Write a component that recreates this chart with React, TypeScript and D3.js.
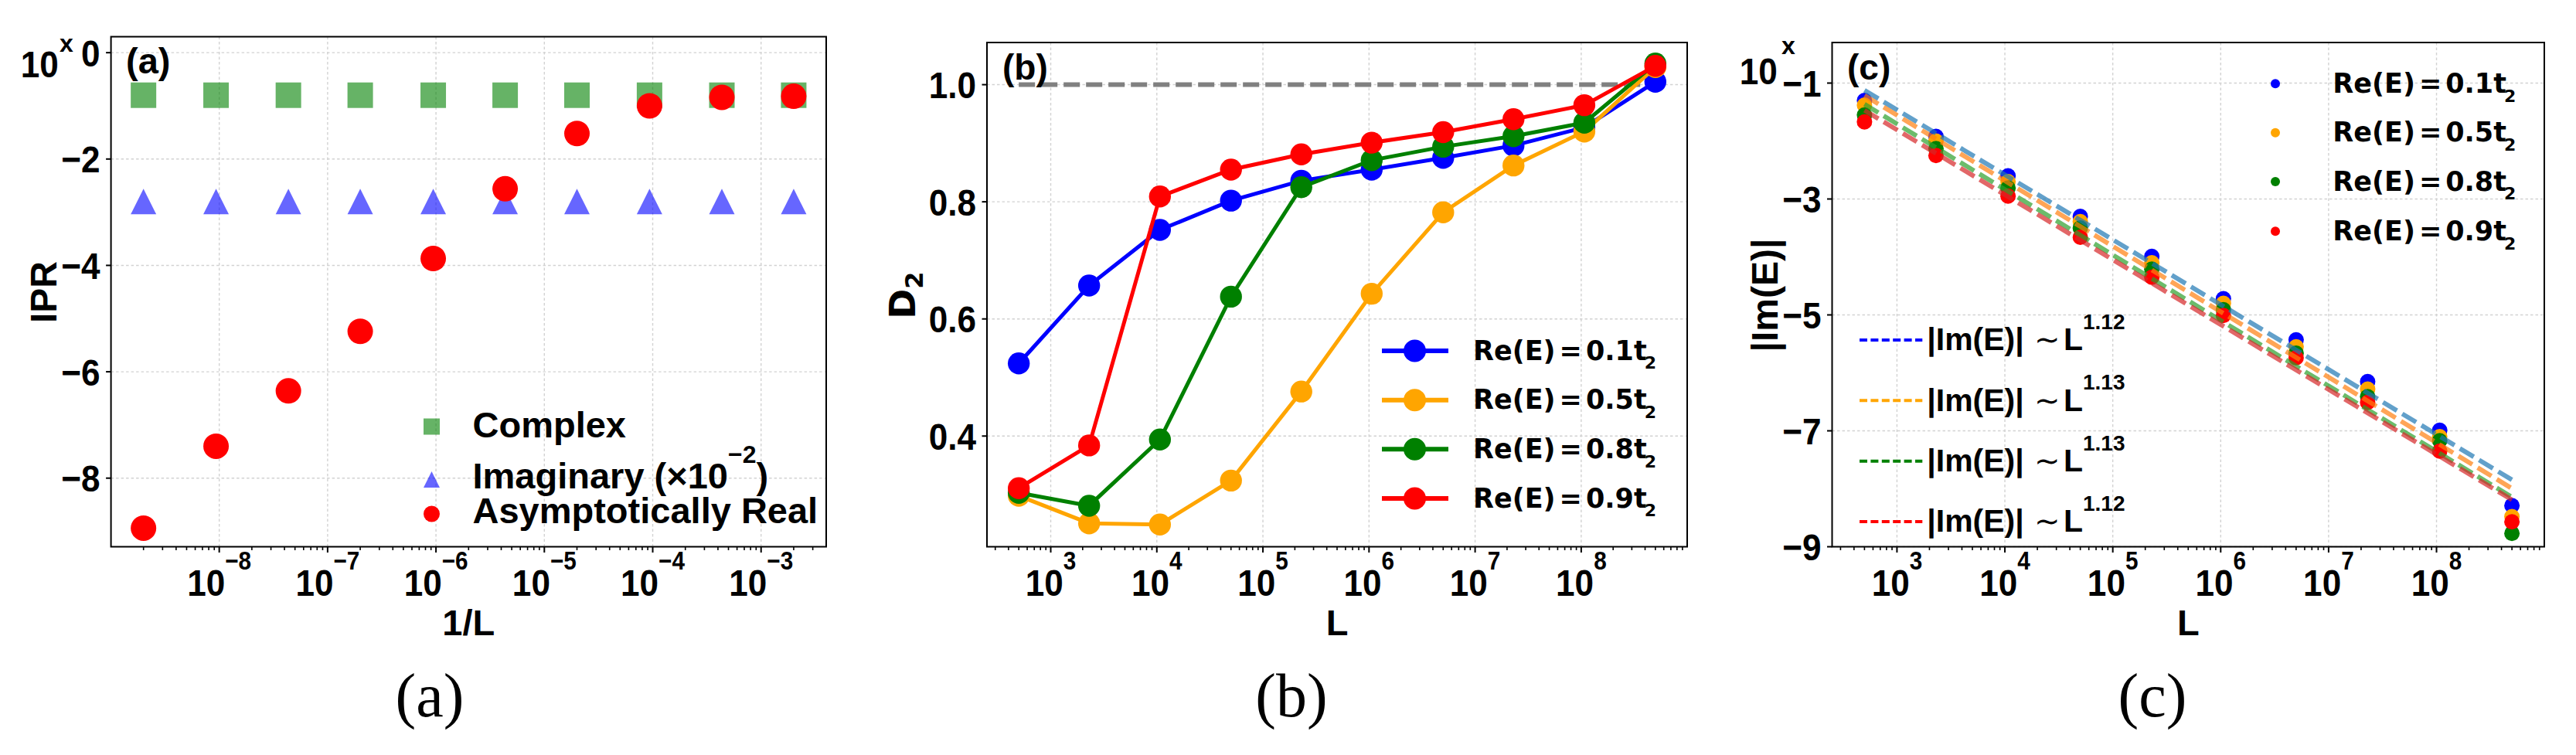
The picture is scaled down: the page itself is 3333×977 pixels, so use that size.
import React from "react";
import * as d3 from "d3";

// ---------------- data ----------------
const L_VALUES = [500, 2300, 10700, 50000, 230000, 1060000, 5000000, 23000000, 107000000, 500000000];

// panel (a): log10(IPR) vs 1/L (ordered by L ascending)
const IPR_COMPLEX = [-0.8, -0.8, -0.8, -0.8, -0.8, -0.8, -0.8, -0.8, -0.8, -0.8];
const IPR_IMAGINARY = [-2.8, -2.8, -2.8, -2.8, -2.8, -2.8, -2.8, -2.8, -2.8, -2.8];
const IPR_ASYMP_REAL = [-0.82, -0.84, -1.0, -1.52, -2.56, -3.87, -5.24, -6.36, -7.4, -8.94];
const A_LEGEND = ["Complex", "Imaginary", "Asymptotically Real"];

// panel (b): D2 vs L
const RE_E_VALUES = ["0.1", "0.5", "0.8", "0.9"];
const SERIES_COLORS = ["blue", "orange", "green", "red"];
const D2_01 = [0.524, 0.657, 0.752, 0.802, 0.836, 0.855, 0.875, 0.896, 0.927, 1.005];
const D2_05 = [0.298, 0.251, 0.249, 0.324, 0.476, 0.643, 0.782, 0.862, 0.92, 1.03];
const D2_08 = [0.303, 0.281, 0.394, 0.638, 0.825, 0.871, 0.894, 0.912, 0.935, 1.036];
const D2_09 = [0.311, 0.384, 0.809, 0.855, 0.881, 0.901, 0.919, 0.941, 0.965, 1.032];
const D2_REFERENCE = 1.0;

// panel (c): log10|Im(E)| vs L
const IM_01 = [-1.3, -1.92, -2.6, -3.3, -3.99, -4.72, -5.43, -6.15, -6.99, -8.29];
const IM_05 = [-1.38, -2.0, -2.7, -3.39, -4.1, -4.8, -5.55, -6.28, -7.1, -8.48];
const IM_08 = [-1.55, -2.13, -2.81, -3.5, -4.21, -4.91, -5.66, -6.41, -7.17, -8.77];
const IM_09 = [-1.67, -2.25, -2.95, -3.66, -4.35, -5.01, -5.74, -6.51, -7.35, -8.57];
const FIT_EXPONENTS = [1.12, 1.13, 1.13, 1.12];
const FIT_INTERCEPTS = [1.898, 1.835, 1.685, 1.553];
const FIT_COLORS = ["#1f77b4", "#ff7f0e", "#2ca02c", "#d62728"];

const Y_TICKS_A = [0, -2, -4, -6, -8];
const Y_TICKS_B = [0.4, 0.6, 0.8, 1.0];
const Y_TICKS_C = [-1, -3, -5, -7, -9];
const CAPTIONS = ["(a)", "(b)", "(c)"];

const D2_SERIES = [D2_01, D2_05, D2_08, D2_09];
const IM_SERIES = [IM_01, IM_05, IM_08, IM_09];

// ---------------- style ----------------
const SANS = "'Liberation Sans', Arial, sans-serif";
const DJV = "'DejaVu Sans', sans-serif";
const SERIF = "'Liberation Serif', 'Times New Roman', serif";
const GRID = "#d2d2d2";
const BOTTOM = 707.5;
const TICK_BASE = 770.7;

const minus = (v: number) => (v < 0 ? `\u2212${-v}` : `${v}`);

function padLog(lo: number, hi: number): [number, number] {
  const a = Math.log10(lo), b = Math.log10(hi), m = (b - a) * 0.05;
  return [Math.pow(10, a - m), Math.pow(10, b + m)];
}

function Grid({ x, y, yTicks, left, right, top }: any) {
  const majors = x.ticks().filter((t: number) => Math.abs(Math.log10(t) - Math.round(Math.log10(t))) < 1e-6);
  return (
    <g stroke={GRID} strokeWidth={1.4} strokeDasharray="3.5,3" fill="none">
      {majors.map((t: number) => (
        <line key={"v" + t} x1={x(t)} x2={x(t)} y1={top} y2={BOTTOM} />
      ))}
      {yTicks.map((t: number) => (
        <line key={"h" + t} x1={left} x2={right} y1={y(t)} y2={y(t)} />
      ))}
    </g>
  );
}

function Axes({ x, y, yTicks, left, right, top, fmt }: any) {
  const ticks = x.ticks();
  return (
    <g>
      {ticks.map((t: number) => {
        const lg = Math.log10(t);
        const major = Math.abs(lg - Math.round(lg)) < 1e-6;
        const px = x(t);
        return (
          <g key={"xt" + t}>
            <line x1={px} x2={px} y1={BOTTOM} y2={BOTTOM + (major ? 7.5 : 4.5)} stroke="#000" strokeWidth={major ? 2 : 1.6} />
            {major && (
              <text
                transform={`translate(${px},${TICK_BASE}) scale(0.9,1)`}
                textAnchor="middle"
                fontFamily={SANS}
                fontWeight="bold"
                fontSize={49}
              >
                10
                <tspan dy={-33.7} fontSize={33}>
                  {minus(Math.round(lg))}
                </tspan>
              </text>
            )}
          </g>
        );
      })}
      {yTicks.map((t: number) => (
        <g key={"yt" + t}>
          <line x1={left - 6.5} x2={left} y1={y(t)} y2={y(t)} stroke="#000" strokeWidth={2} />
          <text
            transform={`translate(${left - 14},${y(t) + 17.5}) scale(0.9,1)`}
            textAnchor="end"
            fontFamily={SANS}
            fontWeight="bold"
            fontSize={49}
          >
            {fmt(t)}
          </text>
        </g>
      ))}
      <rect x={left} y={top} width={right - left} height={BOTTOM - top} fill="none" stroke="#000" strokeWidth={2} />
    </g>
  );
}

function tri(cx: number, cy: number, s: number) {
  return `M${cx},${cy - s / 2}L${cx + s / 2},${cy + s / 2}L${cx - s / 2},${cy + s / 2}Z`;
}

// ---------------- panel (a) ----------------
function PanelA() {
  const left = 143.6, right = 1069, top = 47.5;
  const invL = L_VALUES.map((l) => 1 / l);
  const x = d3.scaleLog().domain(padLog(d3.min(invL)!, d3.max(invL)!)).range([left, right]);
  const y = d3.scaleLinear().domain([-9.29, 0.3]).range([BOTTOM, top]);
  const s = 33;
  return (
    <g>
      <Grid x={x} y={y} yTicks={Y_TICKS_A} left={left} right={right} top={top} />
      {IPR_COMPLEX.map((v, i) => (
        <rect key={"c" + i} x={x(invL[i]) - s / 2} y={y(v) - s / 2} width={s} height={s} fill="green" fillOpacity={0.6} />
      ))}
      {IPR_IMAGINARY.map((v, i) => (
        <path key={"i" + i} d={tri(x(invL[i]), y(v), s)} fill="blue" fillOpacity={0.6} />
      ))}
      {IPR_ASYMP_REAL.map((v, i) => (
        <circle key={"r" + i} cx={x(invL[i])} cy={y(v)} r={s / 2} fill="red" />
      ))}
      <Axes x={x} y={y} yTicks={Y_TICKS_A} left={left} right={right} top={top} fmt={minus} />
      {/* offset text */}
      <text transform="translate(26.7,100) scale(0.9,1)" fontFamily={SANS} fontWeight="bold" fontSize={49}>10</text>
      <text x={77} y={66.7} fontFamily={SANS} fontWeight="bold" fontSize={32}>x</text>
      <text x={163} y={95} fontFamily={SANS} fontWeight="bold" fontSize={47}>(a)</text>
      <text transform="translate(73.3,378) rotate(-90)" textAnchor="middle" fontFamily={SANS} fontWeight="bold" fontSize={48}>IPR</text>
      <text x={(left + right) / 2} y={822} textAnchor="middle" fontFamily={SANS} fontWeight="bold" fontSize={47}>1/L</text>
      {/* legend */}
      <rect x={548} y={541.5} width={21} height={21} fill="green" fillOpacity={0.6} />
      <path d={tri(558.5, 620.5, 21)} fill="blue" fillOpacity={0.6} />
      <circle cx={558.5} cy={665} r={10.5} fill="red" />
      <g fontFamily={SANS} fontWeight="bold" fontSize={47}>
        <text x={611.5} y={565.7}>{A_LEGEND[0]}</text>
        <text x={611.5} y={631.7}>
          {A_LEGEND[1]} (×10
          <tspan dy={-32.7} fontSize={32}>{"\u22122"}</tspan>
          <tspan dy={32.7}>)</tspan>
        </text>
        <text x={611.5} y={677.3}>{A_LEGEND[2]}</text>
      </g>
    </g>
  );
}

// ---------------- panel (b) ----------------
function ReLabel({ x, y, v }: any) {
  return (
    <text x={x} y={y} fontFamily={DJV} fontWeight="bold" fontSize={35}>
      Re(E)
      <tspan dx={5}>=</tspan>
      <tspan dx={5}>{v}t</tspan>
      <tspan dx={-3} dy={11.6} fontSize={22}>2</tspan>
    </text>
  );
}

function PanelB() {
  const left = 1277, right = 2183, top = 55;
  const x = d3.scaleLog().domain(padLog(d3.min(L_VALUES)!, d3.max(L_VALUES)!)).range([left, right]);
  const y = d3.scaleLinear().domain([0.211, 1.072]).range([BOTTOM, top]);
  const line = d3.line<number>().x((_, i) => x(L_VALUES[i])).y((v) => y(v));
  const rows = [454, 517.7, 581.3, 645];
  return (
    <g>
      <Grid x={x} y={y} yTicks={Y_TICKS_B} left={left} right={right} top={top} />
      <line
        x1={x(L_VALUES[0])}
        x2={x(L_VALUES[L_VALUES.length - 1])}
        y1={y(D2_REFERENCE)}
        y2={y(D2_REFERENCE)}
        stroke="#808080"
        strokeWidth={6}
        strokeDasharray="21,8"
      />
      {D2_SERIES.map((ser, k) => (
        <g key={k}>
          <path d={line(ser)!} fill="none" stroke={SERIES_COLORS[k]} strokeWidth={5} />
          {ser.map((v, i) => (
            <circle key={i} cx={x(L_VALUES[i])} cy={y(v)} r={14.2} fill={SERIES_COLORS[k]} />
          ))}
        </g>
      ))}
      <Axes x={x} y={y} yTicks={Y_TICKS_B} left={left} right={right} top={top} fmt={(t: number) => t.toFixed(1)} />
      <text x={1297} y={102.5} fontFamily={SANS} fontWeight="bold" fontSize={46}>(b)</text>
      <text transform="translate(1184,382) rotate(-90)" textAnchor="middle" fontFamily={DJV} fontWeight="bold" fontSize={47}>
        D<tspan dy={10} fontSize={32}>2</tspan>
      </text>
      <text x={(left + right) / 2} y={822} textAnchor="middle" fontFamily={SANS} fontWeight="bold" fontSize={47}>L</text>
      {RE_E_VALUES.map((v, k) => (
        <g key={"lg" + k}>
          <line x1={1788} x2={1874} y1={rows[k]} y2={rows[k]} stroke={SERIES_COLORS[k]} strokeWidth={6} />
          <circle cx={1830.5} cy={rows[k]} r={14.5} fill={SERIES_COLORS[k]} />
          <ReLabel x={1906} y={rows[k] + 11.7} v={v} />
        </g>
      ))}
    </g>
  );
}

// ---------------- panel (c) ----------------
function PanelC() {
  const left = 2370.5, right = 3292, top = 55;
  const x = d3.scaleLog().domain(padLog(d3.min(L_VALUES)!, d3.max(L_VALUES)!)).range([left, right]);
  const y = d3.scaleLinear().domain([-9, -0.3]).range([BOTTOM, top]);
  const ends = [L_VALUES[0], L_VALUES[L_VALUES.length - 1]];
  const fitLine = d3.line<number>().x((l) => x(l));
  const rowsTop = [108.3, 171.7, 235, 299.3];
  const rowsBot = [440, 518.3, 596.7, 675];
  return (
    <g>
      <Grid x={x} y={y} yTicks={Y_TICKS_C} left={left} right={right} top={top} />
      {IM_SERIES.map((ser, k) => (
        <g key={"p" + k}>
          {ser.map((v, i) => (
            <circle key={i} cx={x(L_VALUES[i])} cy={y(v)} r={10} fill={SERIES_COLORS[k]} />
          ))}
        </g>
      ))}
      {FIT_EXPONENTS.map((b, k) => (
        <path
          key={"f" + k}
          d={fitLine.y((l) => y(FIT_INTERCEPTS[k] - b * Math.log10(l)))(ends)!}
          fill="none"
          stroke={FIT_COLORS[k]}
          strokeOpacity={0.7}
          strokeWidth={6}
          strokeDasharray="21,8"
        />
      ))}
      <Axes x={x} y={y} yTicks={Y_TICKS_C} left={left} right={right} top={top} fmt={minus} />
      <text transform="translate(2250.8,109.4) scale(0.9,1)" fontFamily={SANS} fontWeight="bold" fontSize={49}>10</text>
      <text x={2305} y={70} fontFamily={SANS} fontWeight="bold" fontSize={32}>x</text>
      <text x={2390} y={102.5} fontFamily={SANS} fontWeight="bold" fontSize={46}>(c)</text>
      <text transform="translate(2300,382) rotate(-90)" textAnchor="middle" fontFamily={SANS} fontWeight="bold" fontSize={48}>|Im(E)|</text>
      <text x={(left + right) / 2} y={822} textAnchor="middle" fontFamily={SANS} fontWeight="bold" fontSize={47}>L</text>
      {RE_E_VALUES.map((v, k) => (
        <g key={"lt" + k}>
          <circle cx={2944} cy={rowsTop[k]} r={6} fill={SERIES_COLORS[k]} />
          <ReLabel x={3018.3} y={rowsTop[k] + 11.7} v={v} />
        </g>
      ))}
      {FIT_EXPONENTS.map((b, k) => (
        <g key={"lb" + k}>
          <line x1={2406} x2={2487.3} y1={rowsBot[k]} y2={rowsBot[k]} stroke={SERIES_COLORS[k]} strokeWidth={4} strokeDasharray="10,4.4" />
          <g fontFamily={SANS} fontWeight="bold">
            <text x={2493.3} y={rowsBot[k] + 13.3} fontSize={41}>|Im(E)|</text>
            <text x={2632} y={rowsBot[k] + 13.3} fontSize={40} fontWeight="normal" fontFamily={DJV}>∼</text>
            <text x={2670} y={rowsBot[k] + 13.3} fontSize={41}>L</text>
            <text x={2695} y={rowsBot[k] - 14} fontSize={28}>{b.toFixed(2)}</text>
          </g>
        </g>
      ))}
    </g>
  );
}

export default function App() {
  const capX = [556, 1671, 2785];
  return (
    <div>
      <style>{`body{margin:0;background:#fff}`}</style>
      <svg width={3333} height={977} viewBox="0 0 3333 977" style={{ display: "block" }}>
        <rect width={3333} height={977} fill="#fff" />
        <PanelA />
        <PanelB />
        <PanelC />
        {CAPTIONS.map((c, i) => (
          <text key={c} x={capX[i]} y={927} textAnchor="middle" fontFamily={SERIF} fontSize={80}>
            {c}
          </text>
        ))}
      </svg>
    </div>
  );
}
